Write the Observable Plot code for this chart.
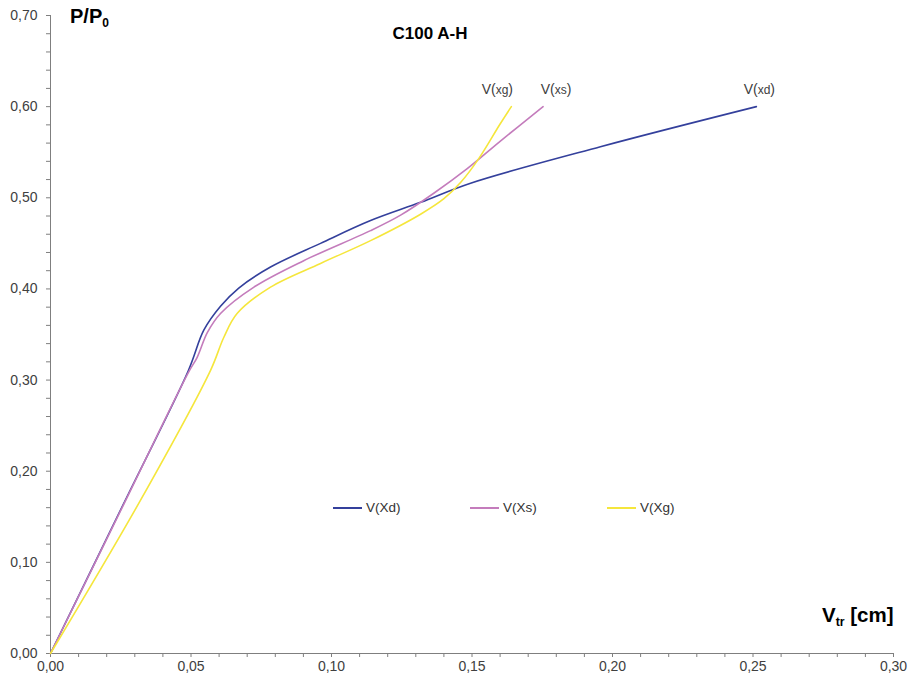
<!DOCTYPE html>
<html>
<head>
<meta charset="utf-8">
<script src="https://cdn.jsdelivr.net/npm/d3@7"></script>
<script src="https://cdn.jsdelivr.net/npm/@observablehq/plot@0.6"></script>
<style>
  body { margin: 0; background: #fff; font-family: "Liberation Sans", Arial, sans-serif; }
  #wrap { position: relative; width: 915px; height: 682px; }
  .lbl { position: absolute; font-weight: bold; color: #000; white-space: nowrap; }
  .lbl sub { font-size: 60%; vertical-align: -0.35em; line-height: 0; }
  .leg { position: absolute; top: 500px; font-size: 13.5px; color: #333; display: flex; align-items: center; }
  .leg span.sw { display: inline-block; width: 29px; height: 2px; margin-right: 4px; }
</style>
</head>
<body>
<div id="wrap"></div>
<script>
// ---- data ----
const seriesNames = ["V(Xd)", "V(Xs)", "V(Xg)"];
const seriesColors = ["#34409c", "#c47cbc", "#f5e63c"];
const endLabels = ["V(xd)", "V(xs)", "V(xg)"];

const xdX = [0, 0.025, 0.049, 0.0546, 0.0605, 0.0670, 0.0783, 0.0961, 0.1139, 0.1317, 0.1495, 0.1957, 0.2512];
const xdY = [0, 0.158, 0.310, 0.355, 0.381, 0.401, 0.424, 0.450, 0.475, 0.495, 0.516, 0.556, 0.600];

const xsX = [0, 0.025, 0.049, 0.0522, 0.0558, 0.0605, 0.0724, 0.0901, 0.1139, 0.1246, 0.1364, 0.1483, 0.1600, 0.1753];
const xsY = [0, 0.157, 0.308, 0.325, 0.352, 0.373, 0.402, 0.431, 0.464, 0.481, 0.505, 0.532, 0.562, 0.600];

const xgX = [0, 0.032, 0.057, 0.0617, 0.0664, 0.0783, 0.0961, 0.1139, 0.1317, 0.1400, 0.1460, 0.1524, 0.1600, 0.1640];
const xgY = [0, 0.168, 0.311, 0.347, 0.373, 0.402, 0.428, 0.453, 0.482, 0.499, 0.517, 0.543, 0.581, 0.600];

const xMajorTicks = [0, 0.05, 0.10, 0.15, 0.20, 0.25, 0.30];
const xMinorTicks = d3.range(0, 31).map(i => i / 100);
const yMajorTicks = [0, 0.10, 0.20, 0.30, 0.40, 0.50, 0.60, 0.70];
const yMinorTicks = d3.range(0, 36).map(i => i / 50);

// ---- build table ----
const xs = [xdX, xsX, xgX], ys = [xdY, xsY, xgY];
const rows = [];
seriesNames.forEach((s, i) => xs[i].forEach((x, j) => rows.push({series: s, x, y: ys[i][j]})));
const ends = seriesNames.map((s, i) => ({series: s, x: xs[i][xs[i].length - 1], y: ys[i][ys[i].length - 1], lab: endLabels[i]}));
const endDx = [3, 13, -14];

const fmt = d => d.toFixed(2).replace(".", ",");
const axisGray = "#7f7f7f";

const chart = Plot.plot({
  width: 915,
  height: 682,
  marginLeft: 50,
  marginRight: 22,
  marginTop: 15,
  marginBottom: 29,
  style: {fontFamily: "'Liberation Sans', Arial, sans-serif", background: "#fff", overflow: "visible"},
  x: {domain: [0, 0.30]},
  y: {domain: [0, 0.70]},
  color: {domain: seriesNames, range: seriesColors},
  marks: [
    Plot.axisX({ticks: xMinorTicks, tickSize: 4, tickFormat: () => "", stroke: axisGray, label: null}),
    Plot.axisX({ticks: xMajorTicks, tickSize: 0, tickPadding: 8, tickFormat: fmt, fontSize: 14, fill: "#404040", label: null}),
    Plot.axisY({ticks: yMinorTicks, tickSize: 4, tickFormat: () => "", stroke: axisGray, label: null}),
    Plot.axisY({ticks: yMajorTicks, tickSize: 0, tickPadding: 13, tickFormat: fmt, fontSize: 14, fill: "#404040", label: null}),
    Plot.ruleY([0], {stroke: axisGray}),
    Plot.ruleX([0], {stroke: axisGray}),
    Plot.line(rows, {x: "x", y: "y", z: "series", stroke: "series", strokeWidth: 1.6, curve: "catmull-rom"}),
    ...ends.map((e, i) => Plot.text([e], {x: "x", y: "y", text: "lab", dy: -17, dx: endDx[i], fontSize: 14, fill: "#404040"})),
    Plot.text(["C100 A-H"], {frameAnchor: "top-left", dx: 342, dy: 11, text: d => d, fontSize: 17, fontWeight: "bold", fill: "#000", textAnchor: "start"})
  ]
});

// style the "x?" part of the end labels smaller
d3.select(chart).selectAll("text").each(function() {
  const s = this.textContent;
  if (endLabels.includes(s)) {
    const t = d3.select(this);
    t.text(null);
    t.append("tspan").text("V(");
    t.append("tspan").attr("font-size", 12).text(s.slice(2, 4));
    t.append("tspan").text(")");
  }
});

const wrap = document.getElementById("wrap");
wrap.appendChild(chart);

// axis titles
const yl = document.createElement("div");
yl.className = "lbl"; yl.style.left = "70px"; yl.style.top = "5px"; yl.style.fontSize = "20px";
yl.innerHTML = "P/P<sub>0</sub>";
wrap.appendChild(yl);
const xl = document.createElement("div");
xl.className = "lbl"; xl.style.left = "822px"; xl.style.top = "603px"; xl.style.fontSize = "20.5px";
xl.innerHTML = "V<sub>tr</sub> [cm]";
wrap.appendChild(xl);

// legend
const legX = [333, 470, 607];
seriesNames.forEach((s, i) => {
  const d = document.createElement("div");
  d.className = "leg"; d.style.left = legX[i] + "px";
  d.innerHTML = `<span class="sw" style="background:${seriesColors[i]}"></span>${s}`;
  wrap.appendChild(d);
});
</script>
</body>
</html>
